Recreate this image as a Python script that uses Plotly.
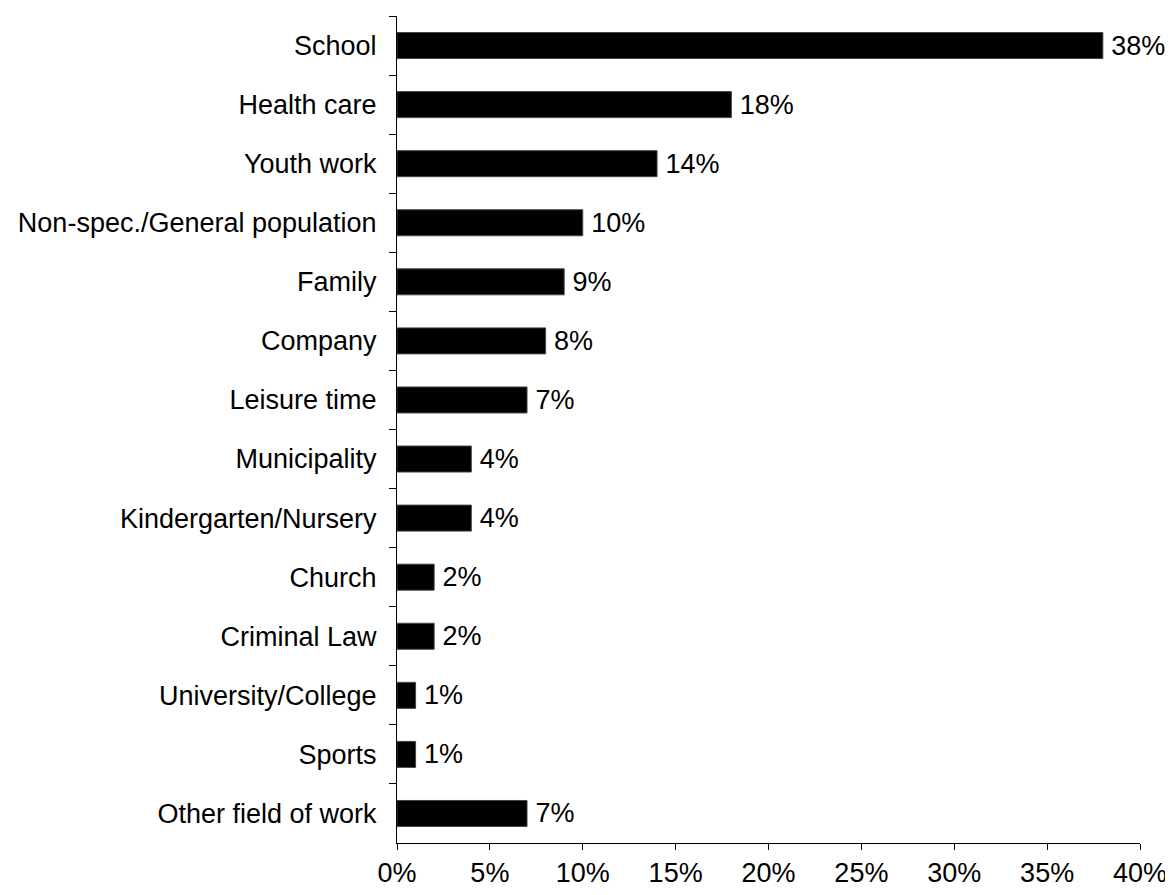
import plotly.graph_objects as go

categories = ["School", "Health care", "Youth work", "Non-spec./General population", "Family",
              "Company", "Leisure time", "Municipality", "Kindergarten/Nursery", "Church",
              "Criminal Law", "University/College", "Sports", "Other field of work"]
values = [38, 18, 14, 10, 9, 8, 7, 4, 4, 2, 2, 1, 1, 7]
x_ticks = [0, 5, 10, 15, 20, 25, 30, 35, 40]
x_tick_labels = [f"{v}%" for v in x_ticks]
text_labels = [f"{v}%" for v in values]

FONT = "Liberation Sans, Arial"
FS = 27
fig = go.Figure(go.Bar(
    x=values, y=categories, orientation="h",
    marker=dict(color="black", line=dict(color="#444", width=1)),
    text=text_labels, texttemplate="\u2009%{text}", textposition="outside", cliponaxis=False,
    constraintext="none",
    textfont=dict(family=FONT, size=FS, color="black"),
))
fig.update_layout(
    width=1165, height=879,
    margin=dict(l=389, r=33, t=8, b=44),
    plot_bgcolor="white", paper_bgcolor="white",
    bargap=0.56, showlegend=False,
    font=dict(family=FONT, size=FS, color="black"),
)
fig.update_xaxes(range=[0, 40], tickvals=x_ticks, ticktext=x_tick_labels,
                 showline=True, linecolor="black", linewidth=1, ticks="outside",
                 ticklen=6, tickcolor="black", showgrid=False, zeroline=False,
                 tickfont=dict(size=FS), automargin=False)
fig.update_yaxes(autorange="reversed", showline=True, linecolor="black", linewidth=1,
                 ticks="outside", tickson="boundaries", ticklen=7, tickcolor="black",
                 showgrid=False, tickfont=dict(size=FS), ticklabelstandoff=14,
                 automargin=False)
fig.write_html("out.html")
